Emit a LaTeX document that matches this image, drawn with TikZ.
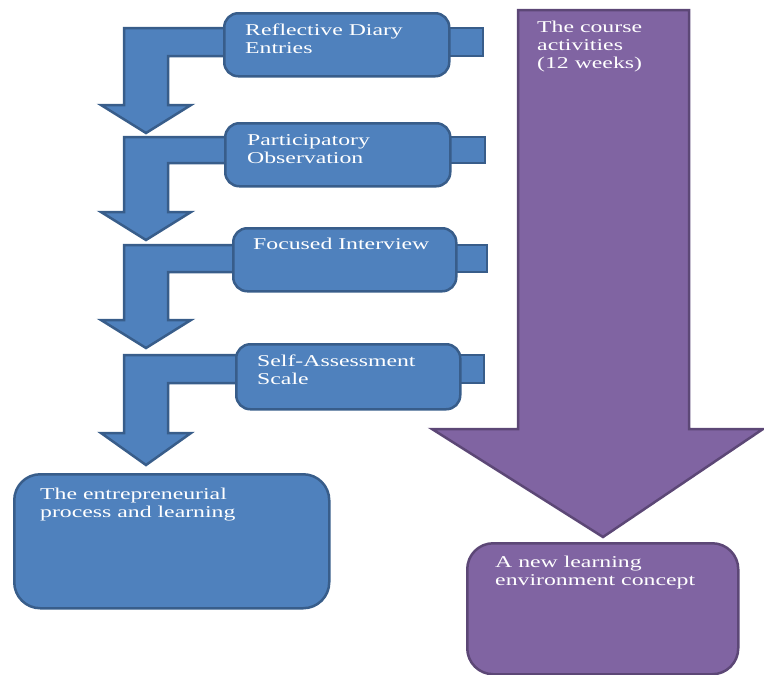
\documentclass[tikz,border=0pt]{standalone}
\usepackage{fontspec}
\setmainfont{Liberation Serif}[FakeStretch=1.44]
\definecolor{bfill}{HTML}{4F81BD}
\definecolor{bdraw}{HTML}{385D8A}
\definecolor{pfill}{HTML}{8064A2}
\definecolor{pdraw}{HTML}{5C4776}
\newcommand{\toptext}[1]{\parbox[t]{240pt}{\raggedright #1}}
\tikzset{
  bshape/.style={fill=bfill, draw=bdraw, line width=2.5pt, line join=miter},
  pshape/.style={fill=pfill, draw=pdraw, line width=2.5pt, line join=miter},
  bbox/.style={bshape, rounded corners=14pt, anchor=north west, inner sep=0pt},
  bigbox/.style={rounded corners=26pt, anchor=north west, inner sep=0pt},
  lbl/.style={text=white, font=\fontsize{16.5}{18.3}\selectfont, anchor=base west, inner sep=0pt}
}
\begin{document}
\begin{tikzpicture}[x=1pt,y=-1pt]
\useasboundingbox (0,0) rectangle (764,675);

% ---- purple big arrow
\draw[pshape] (518,10) -- (689,10) -- (689,429) -- (763,429) -- (603,537) -- (432,429) -- (518,429) -- cycle;
\node[lbl] (tc) at (537,32) {\toptext{The course\\activities\\(12 weeks)}};
\node[pshape, bigbox, minimum width=271pt, minimum height=131pt] (pnew) at (466,542) {};
\node[lbl] (tnew) at (495,567) {\toptext{A new learning\\environment concept}};

% ---- stage arrows (bent) and tabs, then boxes
% stage 1
\draw[bshape] (240,28) -- (124,28) -- (124,105) -- (101,105) -- (146,133) -- (191,105) -- (168,105) -- (168,56) -- (240,56) -- cycle;
\draw[bshape] (430,28) rectangle (483,56);
\node[bbox, minimum width=225pt, minimum height=63pt] (b1) at (223,12) {};
\node[lbl] (t1) at (245,35) {\toptext{Reflective Diary\\Entries}};

% stage 2
\draw[bshape] (240,137) -- (124,137) -- (124,212) -- (101,212) -- (146,240) -- (191,212) -- (168,212) -- (168,163) -- (240,163) -- cycle;
\draw[bshape] (430,137) rectangle (485,163);
\node[bbox, minimum width=225pt, minimum height=63pt] (b2) at (224,122) {};
\node[lbl] (t2) at (247,145) {\toptext{Participatory\\Observation}};

% stage 3
\draw[bshape] (248,245) -- (124,245) -- (124,320) -- (101,320) -- (146,348) -- (191,320) -- (168,320) -- (168,272) -- (248,272) -- cycle;
\draw[bshape] (437,245) rectangle (487,272);
\node[bbox, minimum width=223pt, minimum height=63pt] (b3) at (232,227) {};
\node[lbl] (t3) at (253,249) {\toptext{Focused Interview}};

% stage 4
\draw[bshape] (250,355) -- (124,355) -- (124,433) -- (101,433) -- (146,465) -- (191,433) -- (168,433) -- (168,383) -- (250,383) -- cycle;
\draw[bshape] (440,355) rectangle (484,383);
\node[bbox, minimum width=224pt, minimum height=65pt] (b4) at (235,343) {};
\node[lbl] (t4) at (257,366) {\toptext{Self-Assessment\\Scale}};

% bottom blue box
\node[bshape, bigbox, minimum width=315pt, minimum height=134pt] (bend) at (13,473) {};
\node[lbl] (tend) at (40,499) {\toptext{The entrepreneurial\\process and learning}};
\end{tikzpicture}
\end{document}
